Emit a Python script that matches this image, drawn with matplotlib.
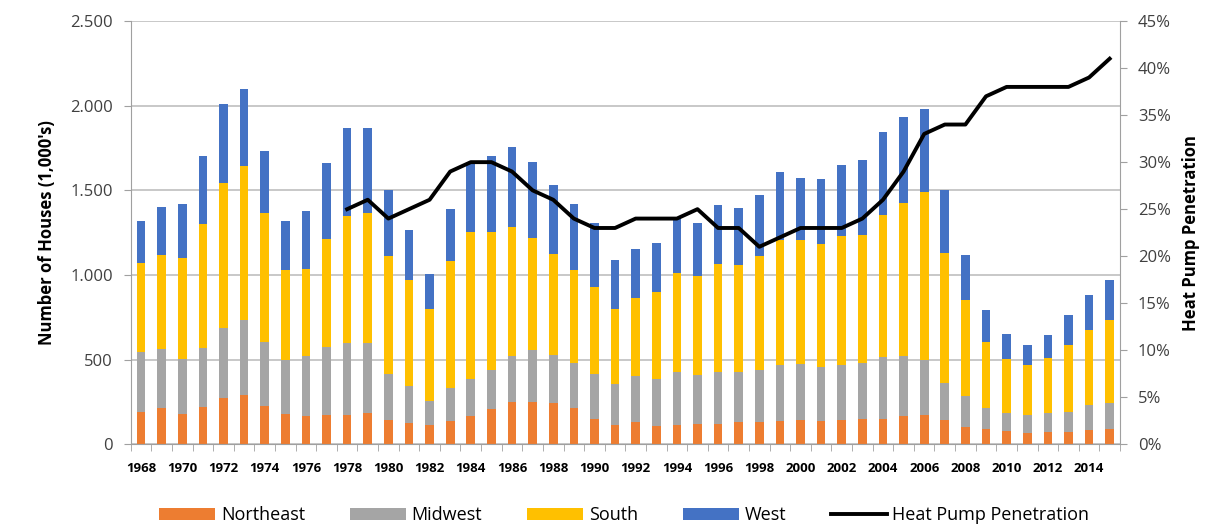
import matplotlib.pyplot as plt
from matplotlib.ticker import FuncFormatter, FixedLocator
from matplotlib.lines import Line2D
from matplotlib.patches import Patch
import numpy as np

plt.rcParams['font.family'] = ['Open Sans', 'DejaVu Sans']

# Housing completions by region (1,000's)
years = list(range(1968, 2016))
northeast = [193, 213, 181, 220, 276, 289, 228, 181, 169, 173, 175, 185, 144, 123, 116, 136,
             165, 209, 250, 250, 246, 213, 152, 116, 132, 110, 116, 122, 122, 130, 134, 136,
             142, 140, 142, 150, 150, 165, 173, 143, 104, 93, 79, 69, 75, 75, 87, 91]
midwest = [350, 348, 325, 351, 413, 445, 378, 315, 355, 404, 423, 415, 273, 219, 142, 199,
           221, 232, 270, 306, 280, 270, 264, 241, 270, 276, 311, 290, 304, 296, 305, 335,
           335, 315, 329, 333, 364, 355, 327, 219, 179, 120, 104, 104, 108, 118, 147, 153]
south = [530, 555, 596, 730, 854, 908, 758, 532, 511, 636, 750, 764, 695, 628, 540, 750,
         869, 814, 764, 661, 597, 549, 512, 441, 463, 516, 582, 581, 640, 636, 672, 735,
         731, 731, 762, 756, 841, 904, 991, 770, 570, 393, 319, 297, 325, 392, 443, 492]
west = [246, 286, 315, 404, 465, 458, 366, 289, 343, 446, 522, 506, 390, 296, 207, 306,
        404, 449, 473, 450, 406, 390, 378, 291, 291, 290, 325, 317, 349, 336, 363, 400,
        366, 382, 414, 439, 487, 508, 488, 372, 265, 189, 148, 115, 140, 177, 205, 233]

# Heat pump penetration (%), 1978-2015
hp_years = list(range(1978, 2016))
hp_pct = [25, 26, 24, 25, 26, 29, 30, 30, 29, 27, 26, 24, 23, 23, 24, 24, 24, 25, 23,
          23, 21, 22, 23, 23, 23, 24, 26, 29, 33, 34, 34, 37, 38, 38, 38, 38, 39, 41]

colors = {'Northeast': '#ED7D31', 'Midwest': '#A5A5A5', 'South': '#FFC000', 'West': '#4472C4'}
grid_c = '#BFBFBF'
text_c = '#404040'

fig = plt.figure(figsize=(12.22, 5.31), dpi=100)
ax = fig.add_axes([0.107, 0.1633, 0.8095, 0.797])

x = np.arange(len(years))
w = 0.42
bottom = np.zeros(len(years))
for name, vals in [('Northeast', northeast), ('Midwest', midwest), ('South', south), ('West', west)]:
    ax.bar(x, vals, w, bottom=bottom, color=colors[name], zorder=2)
    bottom += np.array(vals)

ax.set_xlim(-0.5, len(years) - 0.5)
ax.set_ylim(0, 2500)
ax.set_yticks(range(0, 2501, 500))
ax.yaxis.set_major_formatter(FuncFormatter(lambda v, p: f"{int(v):,}".replace(',', '.')))
ax.grid(axis='y', color=grid_c, linewidth=1.2, zorder=0)
ax.set_axisbelow(True)

ax.set_xticks(x[::2])
ax.set_xticklabels([str(y) for y in years[::2]], fontsize=9.5, fontweight='bold', color='black')
ax.xaxis.set_minor_locator(FixedLocator(np.arange(-0.5, len(years), 1.0)))
ax.tick_params(axis='x', which='major', length=0, pad=13)
ax.tick_params(axis='x', which='minor', length=5, color='#A0A0A0')
ax.tick_params(axis='y', length=5, color='#A0A0A0', labelsize=12, labelcolor=text_c, pad=8)

for s in ['top', 'right']:
    ax.spines[s].set_visible(False)
for s in ['left', 'bottom']:
    ax.spines[s].set_color('#A0A0A0')

ax.set_ylabel("Number of Houses (1,000's)", fontsize=12, fontweight='bold', labelpad=10)

ax2 = ax.twinx()
hp_x = [years.index(y) for y in hp_years]
ax2.plot(hp_x, hp_pct, color='black', linewidth=2.8, solid_joinstyle='round', zorder=3)
ax2.set_ylim(0, 45)
ax2.set_yticks(range(0, 46, 5))
ax2.yaxis.set_major_formatter(FuncFormatter(lambda v, p: f"{int(v)}%"))
ax2.tick_params(axis='y', length=5, color='#A0A0A0', labelsize=12, labelcolor=text_c, pad=8)
for s in ['top', 'left', 'bottom']:
    ax2.spines[s].set_visible(False)
ax2.spines['right'].set_color('#A0A0A0')
ax2.set_ylabel('Heat Pump Penetration', fontsize=12, fontweight='bold', labelpad=8)

handles = [Patch(facecolor=colors[n], label=n) for n in colors]
handles.append(Line2D([0], [0], color='black', linewidth=2.8, label='Heat Pump Penetration'))
fig.legend(handles=handles, loc='lower center', bbox_to_anchor=(0.511, -0.018), ncol=5,
           frameon=False, fontsize=13, handlelength=3.1, handleheight=0.7,
           columnspacing=2.5, handletextpad=0.3)

fig.savefig('out.png', dpi=100)
